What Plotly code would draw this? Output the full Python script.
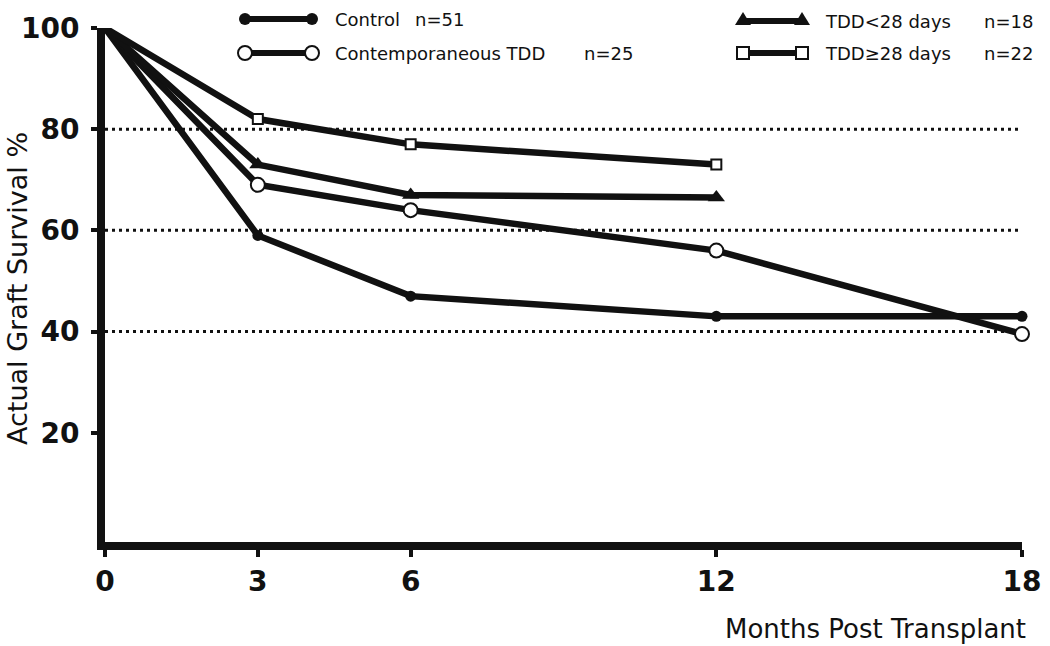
import plotly.graph_objects as go

# ---- data ----
months = [0, 3, 6, 12, 18]
control = [100, 59, 47, 43, 43]
contemp_tdd = [100, 69, 64, 56, 39.5]
months_lt28 = [0, 3, 6, 12]
tdd_lt28 = [100, 73, 67, 66.5]
months_ge28 = [0, 3, 6, 12]
tdd_ge28 = [100, 82, 77, 73]
x_ticks = [0, 3, 6, 12, 18]
y_ticks = [20, 40, 60, 80, 100]
grid_levels = [80, 60, 40]

legend_names = ["Control", "Contemporaneous TDD", "TDD<28 days", "TDD\u226528 days"]
legend_n = ["n=51", "n=25", "n=18", "n=22"]

INK = "#111111"
W, H = 1050, 646
L, R, T, B = 105, 28, 28, 104
PW, PH = W - L - R, H - T - B


def px2x(px):
    return (px - L) / PW


def py2y(py):
    return (H - B - py) / PH


fig = go.Figure()


def add_series(x, y, symbol, size, fill, border):
    n = len(x)
    fig.add_trace(go.Scatter(
        x=x, y=y, mode="lines+markers", cliponaxis=False, showlegend=False,
        hoverinfo="skip",
        line=dict(color=INK, width=6.5),
        marker=dict(symbol=symbol, size=[0] + [size] * (n - 1), color=fill, opacity=1,
                    line=dict(color=INK, width=border)),
    ))


add_series(months, control, "circle", 11, INK, 0)
add_series(months, contemp_tdd, "circle", 14, "white", 2)
add_series(months_lt28, tdd_lt28, "triangle-up", 15, INK, 0)
add_series(months_ge28, tdd_ge28, "square", 10, "white", 2)

shapes = []
for g in grid_levels:
    shapes.append(dict(type="line", xref="x", yref="y", x0=0, x1=18, y0=g, y1=g,
                       line=dict(color=INK, width=3, dash="3px,4px"), layer="below"))

# ---- custom legend (samples with markers at both ends) ----
leg = [
    dict(x0=245, x1=312, y=19, kind="fcircle"),
    dict(x0=245, x1=312, y=53, kind="ocircle"),
    dict(x0=743, x1=802, y=21, kind="tri"),
    dict(x0=743, x1=802, y=53, kind="square"),
]
text_pos = [(333, 413), (333, 582), (823, 982), (823, 982)]

for i, e in enumerate(leg):
    shapes.append(dict(type="line", xref="paper", yref="paper",
                       x0=px2x(e["x0"]), x1=px2x(e["x1"]), y0=py2y(e["y"]), y1=py2y(e["y"]),
                       line=dict(color=INK, width=6)))
    for cx in (e["x0"], e["x1"]):
        base = dict(xref="paper", yref="paper", xsizemode="pixel", ysizemode="pixel",
                    xanchor=px2x(cx), yanchor=py2y(e["y"]))
        if e["kind"] == "fcircle":
            shapes.append(dict(base, type="circle", x0=-6, x1=6, y0=-6, y1=6,
                               fillcolor=INK, line=dict(color=INK, width=0)))
        elif e["kind"] == "ocircle":
            shapes.append(dict(base, type="circle", x0=-7, x1=7, y0=-7, y1=7,
                               fillcolor="white", line=dict(color=INK, width=2)))
        elif e["kind"] == "tri":
            shapes.append(dict(base, type="path", path="M -8,-4 L 8,-4 L 0,9 Z",
                               fillcolor=INK, line=dict(color=INK, width=0)))
        else:
            shapes.append(dict(base, type="rect", x0=-6, x1=6, y0=-6, y1=6,
                               fillcolor="white", line=dict(color=INK, width=2)))

annotations = []
for i, e in enumerate(leg):
    tx, nx = text_pos[i]
    for txt, xx in ((legend_names[i], tx), (legend_n[i], nx)):
        annotations.append(dict(text=txt, xref="paper", yref="paper", x=px2x(xx), y=py2y(e["y"]),
                                xanchor="left", yanchor="middle", showarrow=False,
                                font=dict(family="DejaVu Sans", size=18, color=INK)))

annotations.append(dict(text="Months Post Transplant", xref="paper", yref="paper",
                        x=px2x(1028), y=py2y(629), xanchor="right", yanchor="middle",
                        showarrow=False, font=dict(family="DejaVu Sans", size=26, color=INK)))
annotations.append(dict(text="Actual Graft Survival %", xref="paper", yref="paper",
                        x=px2x(17), y=py2y(289), xanchor="center", yanchor="middle",
                        textangle=-90, showarrow=False,
                        font=dict(family="DejaVu Sans", size=27, color=INK)))

tick_font = dict(family="DejaVu Sans", size=28, color=INK, weight="bold")
fig.update_layout(
    width=W, height=H, margin=dict(l=L, r=R, t=T, b=B, autoexpand=False),
    plot_bgcolor="white", paper_bgcolor="white", hovermode=False,
    shapes=shapes, annotations=annotations, showlegend=False,
    xaxis=dict(range=[0, 18], tickvals=x_ticks, ticktext=[str(v) for v in x_ticks],
               automargin=False,
               showgrid=False, zeroline=False, showline=True, linewidth=8, linecolor=INK,
               ticks="outside", ticklen=7, tickwidth=4, tickcolor=INK,
               tickfont=tick_font),
    yaxis=dict(range=[-1.6, 100], tickvals=y_ticks, ticktext=[str(v) for v in y_ticks],
               automargin=False,
               showline=True, showgrid=False, zeroline=False, linewidth=8, linecolor=INK,
               ticks="outside", ticklen=6, tickwidth=4, tickcolor=INK,
               ticklabelstandoff=6, tickfont=tick_font),
)

fig.write_html("out.html", config={"displayModeBar": False},
               post_script="document.body.style.margin='0px';document.body.style.overflow='hidden';")
